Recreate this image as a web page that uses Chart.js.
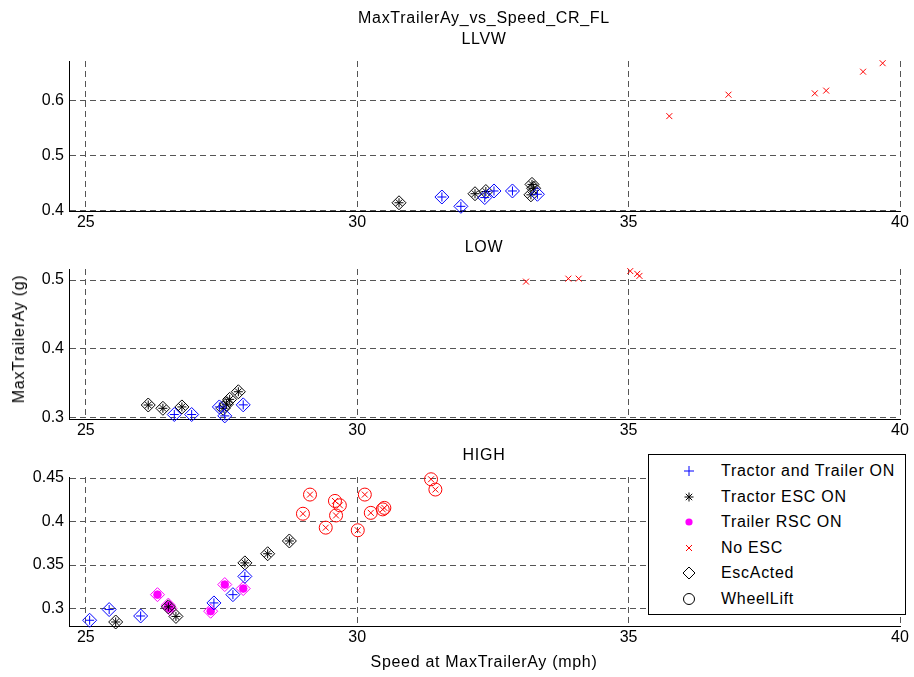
<!DOCTYPE html>
<html>
<head>
<meta charset="utf-8">
<script src="https://cdn.jsdelivr.net/npm/chart.js@4.4.0/dist/chart.umd.min.js"></script>
<style>
body { margin: 0; background: #fff; font-family: "Liberation Sans", Arial, sans-serif; }
#page { position: relative; width: 914px; height: 677px; overflow: hidden; }
.panel { position: absolute; left: 0; width: 914px; }
.txt { position: absolute; font-size: 16px; letter-spacing: 0.7px; color: #000; white-space: nowrap; transform: translate(-50%, -50%); }
#ylab { transform: translate(-50%, -50%) rotate(-90deg); }
#legend { position: absolute; left: 648px; top: 454px; width: 256px; height: 159px; border: 1px solid #000; background: #fff; }
#legend .row { position: absolute; left: 0; height: 20px; width: 256px; }
#legend svg { position: absolute; left: 30px; top: 0; }
#legend span { position: absolute; left: 72px; top: 0; line-height: 20px; font-size: 16px; letter-spacing: 0.7px; white-space: nowrap; }
</style>
</head>
<body>
<div id="page">
  <div class="panel" style="top:0;height:240px"><canvas id="c1" width="914" height="240"></canvas></div>
  <div class="panel" style="top:240px;height:208px"><canvas id="c2" width="914" height="208"></canvas></div>
  <div class="panel" style="top:448px;height:229px"><canvas id="c3" width="914" height="229"></canvas></div>

  <div class="txt" style="left:484px;top:18px">MaxTrailerAy_vs_Speed_CR_FL</div>
  <div class="txt" style="left:484px;top:39px">LLVW</div>
  <div class="txt" style="left:484px;top:247px">LOW</div>
  <div class="txt" style="left:484px;top:455px">HIGH</div>
  <div class="txt" style="left:484px;top:662px">Speed at MaxTrailerAy (mph)</div>
  <div class="txt" id="ylab" style="left:19px;top:339px">MaxTrailerAy (g)</div>

  <div id="legend"></div>
</div>

<script>
// speed (mph) and max trailer Ay (g)
const speedTicks = [25, 30, 35, 40];

// LLVW
const llvwTractorTrailerX = [31.56, 31.91, 32.35, 32.52, 32.86, 33.32];
const llvwTractorTrailerY = [0.424, 0.407, 0.423, 0.435, 0.435, 0.429];
const llvwTractorEscX = [30.77, 32.17, 32.37, 33.22, 33.25, 33.20];
const llvwTractorEscY = [0.4135, 0.430, 0.434, 0.447, 0.440, 0.428];
const llvwNoEscX = [35.75, 36.84, 38.43, 38.64, 39.32, 39.68];
const llvwNoEscY = [0.5715, 0.6106, 0.613, 0.618, 0.6525, 0.668];
const llvwTicks = [0.4, 0.5, 0.6];

// LOW
const lowTractorTrailerX = [26.63, 26.95, 27.46, 27.56, 27.90];
const lowTractorTrailerY = [0.305, 0.305, 0.316, 0.303, 0.319];
const lowTractorEscX = [26.15, 26.42, 26.77, 27.53, 27.59, 27.65, 27.81];
const lowTractorEscY = [0.3188, 0.314, 0.316, 0.314, 0.320, 0.327, 0.338];
const lowNoEscX = [33.11, 33.89, 34.08, 35.03, 35.16, 35.20];
const lowNoEscY = [0.4977, 0.502, 0.502, 0.513, 0.509, 0.506];
const lowTicks = [0.3, 0.4, 0.5];

// HIGH
const highTractorTrailerX = [25.07, 25.43, 26.01, 27.36, 27.71, 27.93];
const highTractorTrailerY = [0.2866, 0.2989, 0.2915, 0.3065, 0.316, 0.337];
const highTractorEscX = [25.55, 26.52, 26.66, 27.93, 28.35, 28.75];
const highTractorEscY = [0.2846, 0.302, 0.291, 0.3525, 0.363, 0.3777];
const highTrailerRscX = [26.32, 26.52, 26.55, 27.30, 27.56, 27.90];
const highTrailerRscY = [0.316, 0.304, 0.300, 0.297, 0.3276, 0.323];
const highNoEscX = [29.00, 29.13, 29.42, 29.59, 29.61, 29.68, 30.01, 30.14, 30.25, 30.47, 30.50, 31.36, 31.44];
const highNoEscY = [0.409, 0.431, 0.393, 0.4237, 0.407, 0.4187, 0.390, 0.431, 0.410, 0.414, 0.4157, 0.4486, 0.4368];
const highTicks = [0.3, 0.35, 0.4, 0.45];

const legendLabels = ["Tractor and Trailer ON", "Tractor ESC ON", "Trailer RSC ON", "No ESC", "EscActed", "WheelLift"];

const BLUE = "#0000ff", BLACK = "#000000", MAGENTA = "#ff00ff", RED = "#ff0000";
const FONT = { family: "'Liberation Sans', Arial, sans-serif", size: 16 };

function pts(xs, ys) {
    return xs.map((x, i) => ({ x: x, y: ys[i] }));
}

function markers(xs, ys, style, color, radius, filled) {
    return {
        data: pts(xs, ys),
        showLine: false,
        clip: false,
        pointStyle: style,
        pointRadius: radius,
        pointHoverRadius: radius,
        pointBorderWidth: 1,
        pointBorderColor: color,
        pointBackgroundColor: filled ? color : "rgba(0,0,0,0)"
    };
}

function makePanel(canvasId, padTop, xAxisHeight, yMin, yMax, yTicks, datasets) {
    const ctx = document.getElementById(canvasId).getContext("2d");
    return new Chart(ctx, {
        type: "scatter",
        data: { datasets: datasets },
        options: {
            responsive: false,
            animation: false,
            events: [],
            layout: { padding: { top: padTop, right: 14, left: 0, bottom: 0 } },
            plugins: { legend: { display: false }, tooltip: { enabled: false }, title: { display: false } },
            scales: {
                x: {
                    type: "linear",
                    min: 24.69,
                    max: 40,
                    afterBuildTicks: s => { s.ticks = speedTicks.map(v => ({ value: v })); },
                    afterFit: s => { s.height = xAxisHeight; },
                    grid: { color: "#555", lineWidth: 1, drawTicks: false },
                    border: { display: true, color: "#000", width: 1, dash: [6, 4] },
                    ticks: { color: "#000", font: FONT, padding: 2, maxRotation: 0 }
                },
                y: {
                    type: "linear",
                    min: yMin,
                    max: yMax,
                    afterBuildTicks: s => { s.ticks = yTicks.map(v => ({ value: v })); },
                    afterFit: s => { s.width = 69; },
                    grid: { color: "#555", lineWidth: 1, drawTicks: false },
                    border: { display: true, color: "#000", width: 1, dash: [6, 4] },
                    ticks: { color: "#000", font: FONT, padding: 5, callback: v => String(v) }
                }
            }
        }
    });
}

makePanel("c1", 61, 29, 0.3985, 0.672, llvwTicks, [
    markers(llvwTractorTrailerX, llvwTractorTrailerY, "cross", BLUE, 4.5),
    markers(llvwTractorTrailerX, llvwTractorTrailerY, "rectRot", BLUE, 7),
    markers(llvwTractorEscX, llvwTractorEscY, "star", BLACK, 4.5),
    markers(llvwTractorEscX, llvwTractorEscY, "rectRot", BLACK, 7),
    markers(llvwNoEscX, llvwNoEscY, "crossRot", RED, 4.2)
]);

makePanel("c2", 29, 29, 0.2985, 0.516, lowTicks, [
    markers(lowTractorTrailerX, lowTractorTrailerY, "cross", BLUE, 4.5),
    markers(lowTractorTrailerX, lowTractorTrailerY, "rectRot", BLUE, 7),
    markers(lowTractorEscX, lowTractorEscY, "star", BLACK, 4.5),
    markers(lowTractorEscX, lowTractorEscY, "rectRot", BLACK, 7),
    markers(lowNoEscX, lowNoEscY, "crossRot", RED, 4.2)
]);

makePanel("c3", 29, 51, 0.28, 0.4512, highTicks, [
    markers(highTractorTrailerX, highTractorTrailerY, "cross", BLUE, 4.5),
    markers(highTractorTrailerX, highTractorTrailerY, "rectRot", BLUE, 7),
    markers(highTractorEscX, highTractorEscY, "star", BLACK, 4.5),
    markers(highTractorEscX, highTractorEscY, "rectRot", BLACK, 7),
    markers(highTrailerRscX, highTrailerRscY, "circle", MAGENTA, 3.8, true),
    markers(highTrailerRscX, highTrailerRscY, "rectRot", MAGENTA, 7),
    markers(highNoEscX, highNoEscY, "crossRot", RED, 4.2),
    markers(highNoEscX, highNoEscY, "circle", RED, 6.5)
]);

// legend symbols, drawn as small svg
const legendSymbols = [
    '<line x1="5" y1="10" x2="15" y2="10" stroke="' + BLUE + '"/><line x1="10" y1="5" x2="10" y2="15" stroke="' + BLUE + '"/>',
    '<line x1="5.5" y1="10" x2="14.5" y2="10" stroke="#000"/><line x1="10" y1="5.5" x2="10" y2="14.5" stroke="#000"/>' +
        '<line x1="6.8" y1="6.8" x2="13.2" y2="13.2" stroke="#000"/><line x1="6.8" y1="13.2" x2="13.2" y2="6.8" stroke="#000"/>',
    '<circle cx="10" cy="10" r="3.6" fill="' + MAGENTA + '"/>',
    '<line x1="7" y1="7" x2="13" y2="13" stroke="' + RED + '"/><line x1="7" y1="13" x2="13" y2="7" stroke="' + RED + '"/>',
    '<polygon points="10,4 16,10 10,16 4,10" fill="none" stroke="#000"/>',
    '<circle cx="10" cy="10" r="5.5" fill="none" stroke="#000"/>'
];
const rowCenters = [16, 41.6, 67.2, 92.8, 118.4, 144];
const legend = document.getElementById("legend");
legendLabels.forEach((label, i) => {
    const row = document.createElement("div");
    row.className = "row";
    row.style.top = (rowCenters[i] - 10) + "px";
    row.innerHTML = '<svg width="20" height="20" viewBox="0 0 20 20">' + legendSymbols[i] + '</svg><span>' + label + '</span>';
    legend.appendChild(row);
});
</script>
</body>
</html>
